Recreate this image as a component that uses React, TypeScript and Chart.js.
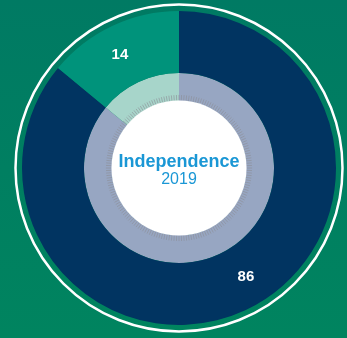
import React, { useEffect, useRef } from "react";
import { Chart, registerables } from "chart.js";

Chart.register(...registerables);

const categories = ["Not independent", "Independent"];
const outerValues = [86, 14];
const innerValues = [86, 14];
const valueLabels = ["86", "14"];
const centerTitle = "Independence";
const centerYear = "2019";

const outerColors = ["#013461", "#00937b"];
const innerColors = ["#97a6c2", "#a7d5ca"];

const decorPlugin = {
  id: "decor",
  beforeDatasetsDraw(chart: any) {
    const meta = chart.getDatasetMeta(0);
    const arc = meta.data[0];
    if (!arc) return;
    const { x, y, outerRadius } = arc.getProps(["x", "y", "outerRadius"], true);
    const ctx = chart.ctx;
    ctx.save();
    ctx.beginPath();
    ctx.arc(x, y, outerRadius + 6.5, 0, Math.PI * 2);
    ctx.strokeStyle = "#ffffff";
    ctx.lineWidth = 2.5;
    ctx.stroke();
    ctx.restore();
  },
  afterDatasetsDraw(chart: any) {
    const ctx = chart.ctx;
    const inner = chart.getDatasetMeta(1).data[0];
    if (!inner) return;
    const { x, y, innerRadius } = inner.getProps(["x", "y", "innerRadius"], true);
    ctx.save();
    // tick band
    const n = 180;
    ctx.strokeStyle = "rgba(140,142,150,0.6)";
    ctx.lineWidth = 1;
    for (let i = 0; i < n; i++) {
      const a = (i / n) * Math.PI * 2;
      ctx.beginPath();
      ctx.moveTo(x + Math.cos(a) * (innerRadius + 0.5), y + Math.sin(a) * (innerRadius + 0.5));
      ctx.lineTo(x + Math.cos(a) * (innerRadius + 6), y + Math.sin(a) * (innerRadius + 6));
      ctx.stroke();
    }
    // white centre
    ctx.beginPath();
    ctx.arc(x, y, innerRadius + 0.5, 0, Math.PI * 2);
    ctx.fillStyle = "#ffffff";
    ctx.fill();
    // centre text
    ctx.fillStyle = "#1a97d5";
    ctx.textAlign = "center";
    ctx.textBaseline = "middle";
    ctx.font = "bold 18px 'Liberation Sans', Arial, sans-serif";
    ctx.fillText(centerTitle, x, y - 6);
    ctx.font = "16px 'Liberation Sans', Arial, sans-serif";
    ctx.fillText(centerYear, x, y + 12);
    // value labels
    const outer = chart.getDatasetMeta(0).data;
    ctx.fillStyle = "#ffffff";
    ctx.font = "bold 15px 'Liberation Sans', Arial, sans-serif";
    outer.forEach((el: any, i: number) => {
      const p = el.getProps(["x", "y", "startAngle", "endAngle", "innerRadius", "outerRadius"], true);
      const mid = (p.startAngle + p.endAngle) / 2 - (i === 0 ? 0.11 : 0.04);
      const r = (p.innerRadius + p.outerRadius) / 2 + 2;
      ctx.fillText(valueLabels[i], p.x + Math.cos(mid) * r, p.y + Math.sin(mid) * r);
    });
    ctx.restore();
  },
};

export default function App() {
  const ref = useRef<HTMLCanvasElement>(null);
  useEffect(() => {
    document.body.style.margin = "0";
    const chart = new Chart(ref.current!, {
      type: "doughnut",
      data: {
        labels: categories,
        datasets: [
          { data: outerValues, backgroundColor: outerColors, borderWidth: 0, weight: 62 },
          { data: innerValues, backgroundColor: innerColors, borderWidth: 0, weight: 28 },
        ],
      },
      options: {
        animation: false,
        responsive: false,
        cutout: "42.7%",
        layout: { padding: { left: 22, right: 11, top: 11, bottom: 13 } },
        plugins: { legend: { display: false }, tooltip: { enabled: false } },
      },
      plugins: [decorPlugin],
    });
    return () => chart.destroy();
  }, []);
  return (
    <div
      style={{
        width: 347,
        height: 338,
        background: "linear-gradient(#007a63, #00845f)",
      }}
    >
      <canvas ref={ref} width={347} height={338} style={{ display: "block" }} />
    </div>
  );
}
